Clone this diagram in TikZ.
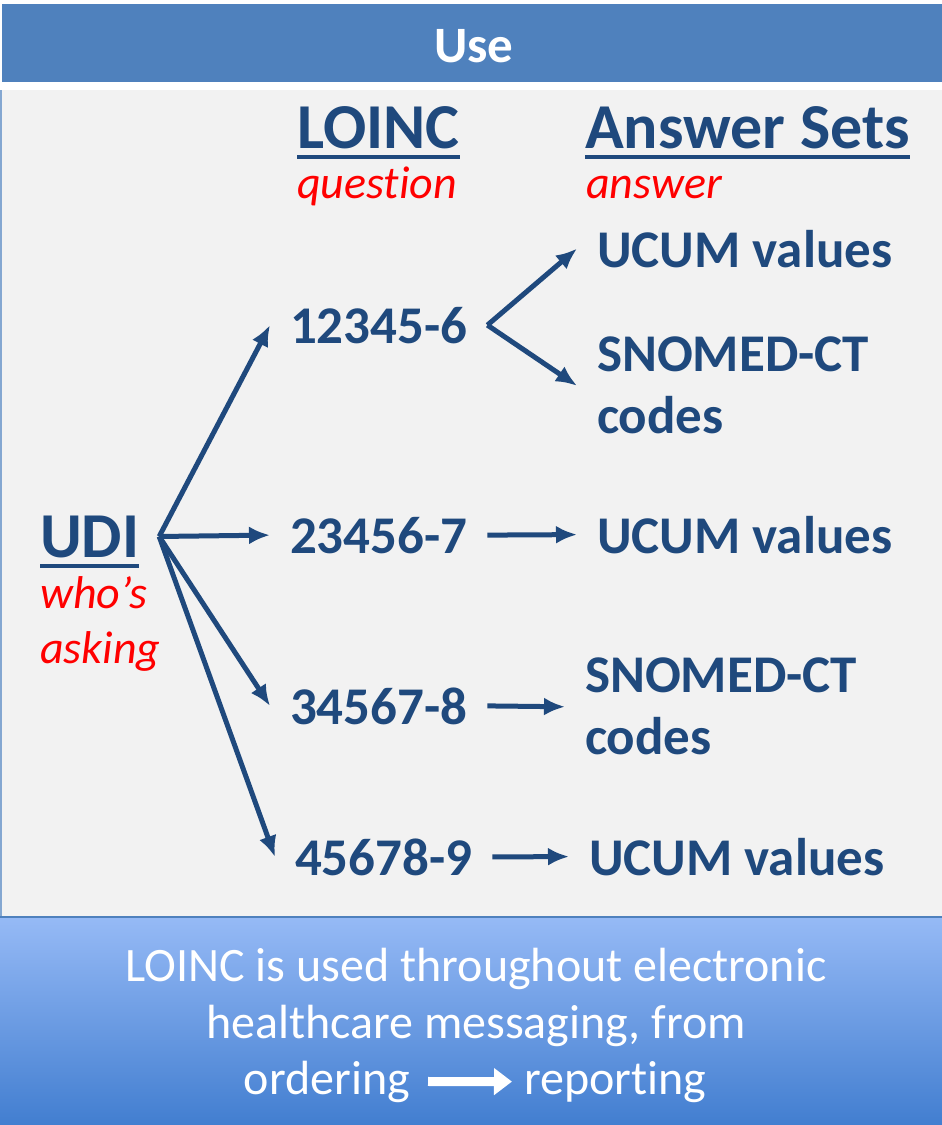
\documentclass[tikz,border=0pt]{standalone}
\usepackage{fontspec}
\setmainfont{Carlito}[RawFeature={-liga;-clig;-calt;-dlig}]
\usetikzlibrary{arrows.meta}
\definecolor{navy}{HTML}{1F497D}
\definecolor{bar}{HTML}{4F81BD}
\definecolor{panel}{HTML}{F2F2F2}
\definecolor{skytop}{RGB}{150,186,246}
\definecolor{skybot}{RGB}{66,126,208}

\begin{document}
\begin{tikzpicture}[x=1pt,y=-1pt,>={Latex[length=21pt,width=18pt]},
  txt/.style={inner sep=0pt,outer xsep=20pt,anchor=base west,text=navy,font=\bfseries\fontsize{53}{62}\selectfont},
  hd/.style={inner sep=0pt,anchor=base west,text=navy,font=\bfseries\fontsize{64}{70}\selectfont},
  sub/.style={inner sep=0pt,anchor=base west,text=red,font=\itshape\fontsize{46}{55}\selectfont},
  msg/.style={inner sep=0pt,text=white,font=\fontsize{48}{57}\selectfont},
  ln/.style={->,navy,line width=5pt}]

  \useasboundingbox (0,0) rectangle (942,1125);

  % panels
  \fill[white] (0,0) rectangle (942,1125);
  \fill[bar] (2,4) rectangle (942,82);
  \fill[panel] (0,90) rectangle (942,916);
  \fill[bar!70] (0,90) rectangle (2,916);
  \shade[top color=skytop,bottom color=skybot] (0,916) rectangle (942,1125);
  \draw[bar,line width=2pt] (0,917) -- (942,917);

  \node (use) at (474,46) [inner sep=0pt,text=white,font=\bfseries\fontsize{51}{60}\selectfont] {Use};

  % column heads
  \node (loinc) at (297,148) [hd] {LOINC};
  \node (ans) at (585,148) [hd] {Answer Sets};
  \draw[navy,line width=4pt] ([yshift=-9pt]loinc.base west) -- ([yshift=-9pt]loinc.base east);
  \draw[navy,line width=4pt] ([yshift=-9pt]ans.base west) -- ([yshift=-9pt]ans.base east);
  \node (qst) at (297,198) [sub] {question};
  \node (asw) at (586,198) [sub] {answer};

  \node (udi) at (20,557) [hd,outer xsep=20pt] {UDI};
  \draw[navy,line width=4pt] ([yshift=-9pt,xshift=20pt]udi.base west) -- ([yshift=-9pt,xshift=-20pt]udi.base east);
  \node (who) at (40,608) [sub] {who’s};
  \node (ask) at (40,663) [sub] {asking};

  % codes
  \node (c1) at (270,343) [txt] {12345-6};
  \node (c2) at (270,553) [txt] {23456-7};
  \node (c3) at (270,724) [txt] {34567-8};
  \node (c4) at (275,875) [txt] {45678-9};

  % answers
  \node (u1) at (577,267) [txt] {UCUM values};
  \node (s1) at (577,337) [txt,anchor=north west,align=left] {SNOMED-CT\\codes};
  \node (u2) at (577,553) [txt] {UCUM values};
  \node (s2) at (565,658) [txt,anchor=north west,align=left] {SNOMED-CT\\codes};
  \node (u3) at (569,875) [txt] {UCUM values};

  \draw [ln] (udi.east) -- (c1.west);
  \draw [ln] (udi.east) -- (c2.west);
  \draw [ln] (udi.east) -- (c3.west);
  \draw [ln] (udi.east) -- (c4.west);
  \draw [ln] (c1.east) -- (u1.west);
  \draw [ln] (c1.east) -- (s1.west);
  \draw [ln] (c2.east) -- (u2.west);
  \draw [ln] (c3.east) -- (s2.west);
  \draw [ln] (c4.east) -- (u3.west);

  % footer
  \node (note) at (476,948) [msg,anchor=north,align=center] {LOINC is used throughout electronic\\healthcare messaging, from};
  \node (ord) at (410,1094) [msg,anchor=base east] {ordering};
  \node (rep) at (524,1094) [msg,anchor=base west] {reporting};
  \draw [-{Triangle[length=18pt,width=26pt]},white,line width=9pt,shorten <=18pt,shorten >=12pt] (ord.east) -- (rep.west);

\end{tikzpicture}
\end{document}
